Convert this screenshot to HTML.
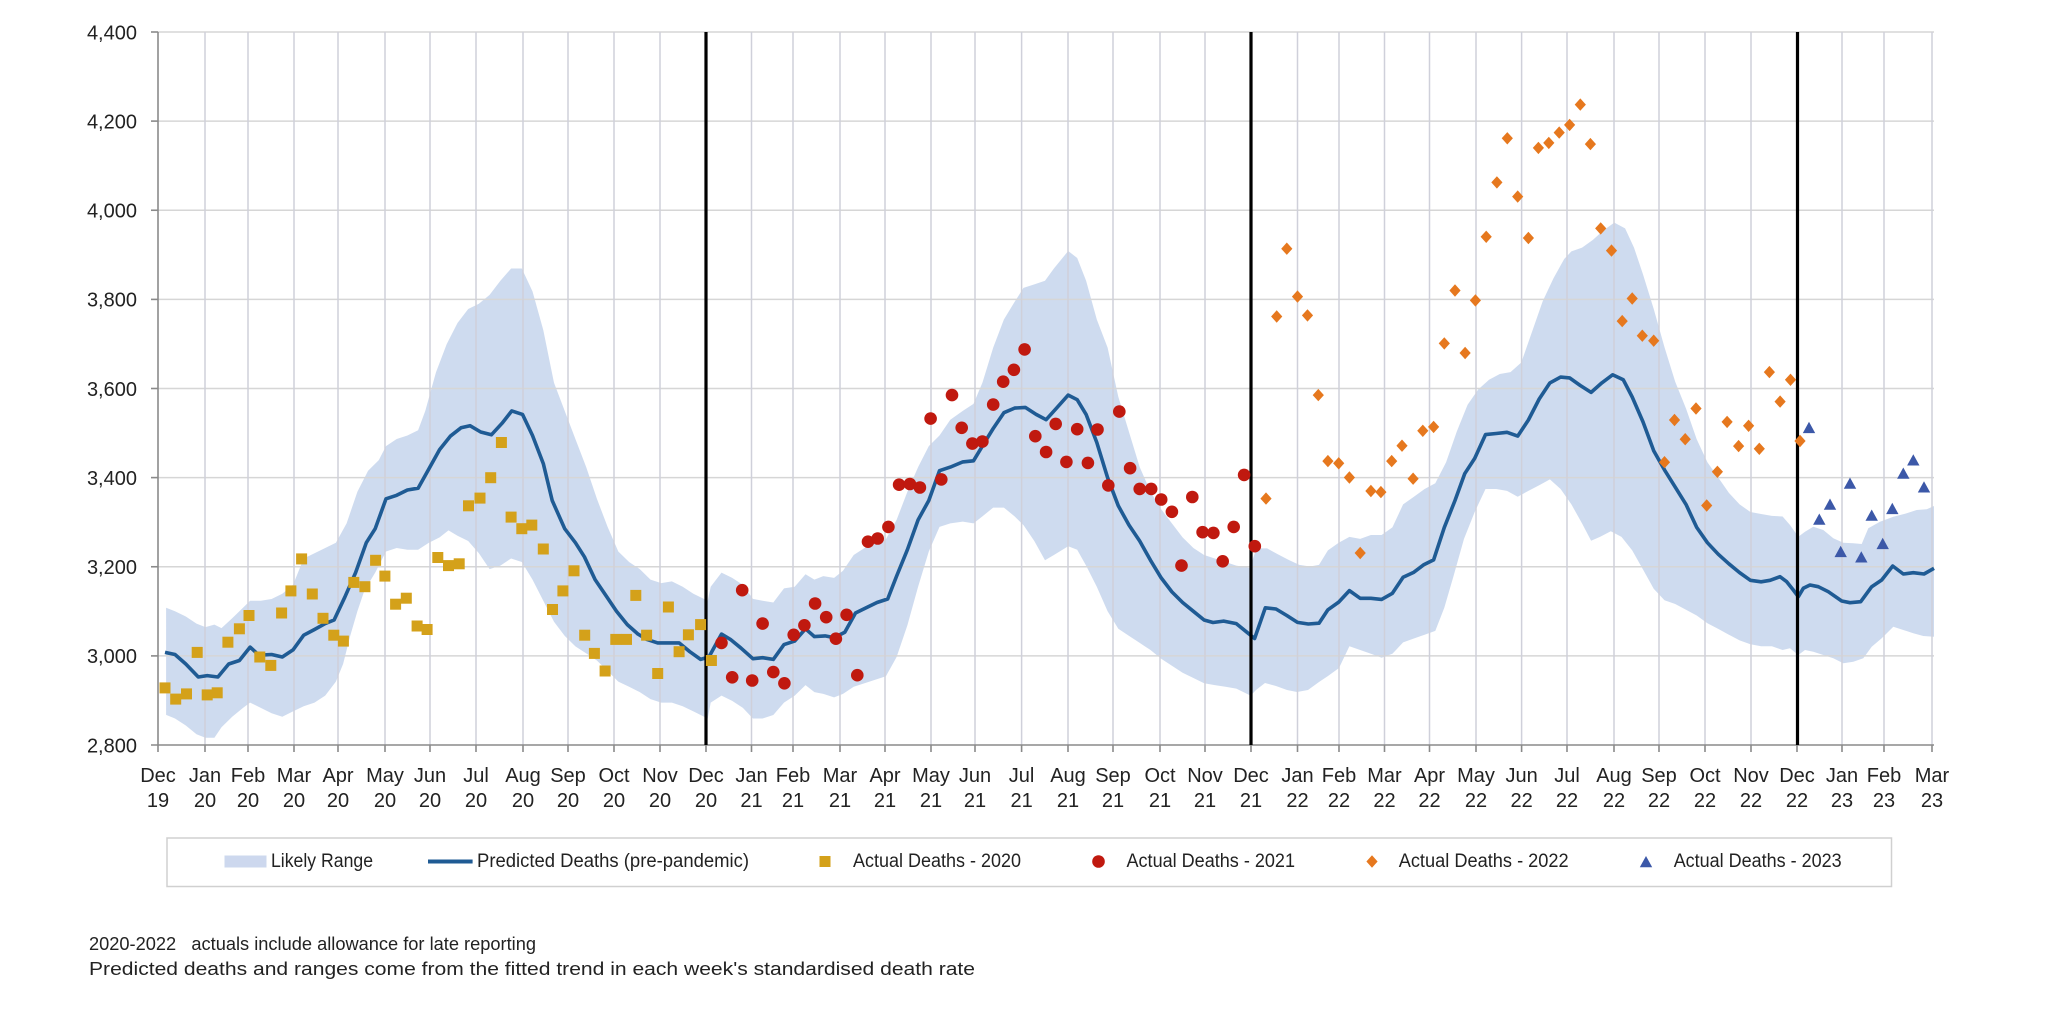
<!DOCTYPE html>
<html><head><meta charset="utf-8"><style>html,body{margin:0;padding:0;background:#fff}svg{display:block}</style></head>
<body>
<svg xmlns="http://www.w3.org/2000/svg" width="2048" height="1009" viewBox="0 0 2048 1009" font-family="'Liberation Sans', sans-serif">
<defs>
<rect id="s" x="-5.5" y="-5.5" width="11" height="11" fill="#d4a11a"/>
<circle id="c" cx="0" cy="0" r="6.3" fill="#c0190f"/>
<path id="d" d="M0,-6.2L5.6,0L0,6.2L-5.6,0Z" fill="#e6781e"/>
<path id="t" d="M0,-6.5L6.2,4.8L-6.2,4.8Z" fill="#3c58a8"/>
</defs>
<rect width="2048" height="1009" fill="#fff"/>

<!-- band -->
<polygon fill="#b4c7e7" fill-opacity="0.65" points="166.1,607.7 175.0,611.3 185.8,616.5 196.5,623.6 205.4,627.1 214.4,624.6 221.5,628.1 232.2,618.3 243.0,607.7 250.1,600.7 260.8,600.7 271.6,599.0 282.3,593.7 293.0,584.9 303.7,558.5 314.5,553.3 325.2,548.0 335.9,542.7 346.6,523.4 357.4,491.7 368.1,470.7 378.8,460.1 386.0,446.1 396.7,439.0 407.4,435.5 418.1,430.2 425.3,410.9 436.0,372.2 446.7,344.1 457.5,323.0 468.2,309.0 478.9,303.7 489.6,294.9 500.4,280.8 511.1,268.5 521.8,268.5 532.5,291.4 543.3,330.1 554.0,382.8 564.7,410.9 575.4,439.0 586.2,467.1 596.9,498.8 607.6,526.9 618.3,551.5 629.1,562.0 639.8,569.1 650.5,579.6 661.2,583.1 671.9,581.4 682.7,586.7 693.4,593.7 707.7,600.7 710.7,586.7 721.5,572.6 732.2,577.9 742.9,584.9 752.9,598.9 762.6,600.7 773.3,602.5 784.0,588.4 794.7,586.7 805.5,574.3 814.4,579.6 823.3,576.1 834.1,577.9 843.0,570.8 853.7,555.0 864.5,548.0 875.2,542.7 885.9,539.2 896.6,519.9 907.4,491.7 918.1,467.1 928.8,446.1 939.5,435.5 950.3,419.7 962.8,410.9 973.5,403.9 982.4,382.8 993.2,347.6 1003.9,319.5 1014.6,301.9 1023.5,287.9 1034.3,284.4 1045.0,280.8 1053.9,268.5 1068.2,251.0 1077.2,258.0 1086.1,280.8 1096.8,319.5 1107.6,347.6 1118.3,396.8 1129.0,432.0 1139.7,467.1 1150.5,491.7 1161.2,509.3 1171.9,523.4 1182.6,537.4 1193.4,548.0 1204.1,555.0 1214.8,558.5 1225.5,562.0 1236.3,565.6 1250,568 1256.3,548.4 1267.1,548.4 1277.8,554.2 1288.6,559.9 1299.3,564.9 1310.0,566.5 1319.0,564.9 1327.9,550.4 1338.7,542.7 1349.4,536.9 1360.2,538.9 1370.9,535.0 1381.6,535.0 1392.4,527.4 1403.1,504.4 1413.9,496.7 1424.6,489.0 1435.3,483.3 1446.1,462.2 1456.8,431.5 1467.6,404.7 1478.3,389.4 1489.0,379.8 1499.8,374.0 1510.5,372.1 1521.3,362.5 1532.0,331.9 1542.7,301.2 1553.5,278.2 1564.2,259.0 1571.4,251.4 1582.1,247.6 1592.9,239.9 1603.6,230.3 1614.3,222.6 1625.1,228.4 1634.0,247.6 1643.0,274.4 1653.7,308.9 1664.5,347.2 1675.2,381.7 1686.0,408.5 1696.7,439.2 1707.4,462.2 1718.2,477.5 1728.9,492.9 1739.6,504.4 1750.4,512.0 1761.1,514.0 1771.9,515.9 1782.6,516.5 1790,525 1798.3,536.7 1805,531.7 1813.3,526.7 1823.3,530 1833.3,538.3 1843.3,542.7 1853.3,543.3 1861.7,544 1868.3,528.3 1880,521.7 1893.3,516.7 1906.7,513.3 1916.7,510 1926.7,509.3 1934,506 1934,636.7 1923.3,636 1913.3,633.3 1903.3,630 1893.3,626.7 1881.7,638.3 1871.7,646.7 1863.3,658.3 1853.3,661.7 1843.3,663.3 1833.3,658.3 1823.3,655 1813.3,651.7 1805,650 1798.3,655 1790,648.3 1782.6,650.0 1771.9,646.2 1761.1,646.2 1750.4,644.3 1739.6,640.4 1728.9,634.7 1718.2,628.9 1707.4,623.2 1696.7,615.5 1686.0,609.8 1675.2,604.0 1664.5,600.2 1653.7,588.7 1643.0,569.5 1632.2,550.4 1621.5,536.9 1610.8,531.2 1600.0,536.9 1591.1,540.8 1582.1,523.5 1571.4,504.4 1560.6,489.0 1549.9,479.4 1539.2,485.2 1528.4,490.9 1517.7,496.7 1507.0,490.9 1496.2,489.0 1485.5,489.0 1474.7,512.0 1464.0,538.9 1453.2,577.2 1444.3,607.8 1435.3,630.9 1424.6,634.7 1413.9,638.5 1403.1,642.4 1392.4,653.8 1381.6,657.7 1370.9,653.8 1360.2,650.0 1349.4,646.2 1339,668 1328,676 1319,682 1308,690 1297,692 1287,690 1276,686 1265,683 1256,690 1250.6,695.6 1236.3,688.6 1225.5,686.8 1214.8,685.1 1204.1,683.3 1193.4,678.0 1182.6,672.8 1171.9,665.7 1161.2,658.7 1150.5,650.0 1139.7,642.9 1129.0,635.9 1118.3,628.8 1107.6,611.3 1096.8,586.7 1086.1,565.6 1077.2,549.7 1068.2,546.2 1053.9,555.0 1045.0,560.3 1034.3,541.0 1023.5,525.1 1014.6,516.4 1003.9,507.6 993.2,507.6 982.4,516.4 973.5,523.4 962.8,521.6 950.3,523.4 939.5,526.9 928.8,551.5 918.1,586.7 907.4,625.3 896.6,657.0 885.9,676.3 875.2,679.8 864.5,683.3 853.7,686.8 843.0,693.9 834.1,697.4 823.3,693.9 814.4,692.1 805.5,685.1 794.7,695.6 784.0,702.6 773.3,715.0 762.6,718.5 752.9,718.5 742.9,707.9 732.2,700.9 721.5,695.6 710.7,702.6 707.7,718.5 693.4,711.4 682.7,706.2 671.9,702.6 661.2,702.6 650.5,699.1 639.8,692.1 629.1,686.8 618.3,681.6 607.6,671.0 596.9,660.5 586.2,653.4 575.4,646.4 564.7,635.9 554.0,621.8 543.3,600.7 532.5,579.6 521.8,562.0 511.1,558.5 500.4,565.6 489.6,569.1 478.9,553.3 468.2,541.0 457.5,535.7 448.5,530.4 439.6,537.4 428.9,542.7 418.1,549.7 407.4,549.7 396.7,548.0 386.0,551.5 375.2,572.6 364.5,590.2 357.4,611.3 350.2,635.9 343.1,664.0 335.9,681.6 325.2,695.6 314.5,702.6 303.7,706.2 293.0,711.4 282.3,716.7 271.6,713.2 260.8,707.9 250.1,702.6 243.0,707.9 232.2,716.7 221.5,727.3 214.4,737.8 205.4,737.8 196.5,734.3 185.8,725.5 175.0,718.5 166.1,714.9"/>

<!-- horizontal gridlines -->
<g stroke="#d6d6d6" stroke-width="1.5" fill="none">
<line x1="158" y1="32" x2="1934" y2="32"/>
<line x1="158" y1="121.1" x2="1934" y2="121.1"/>
<line x1="158" y1="210.25" x2="1934" y2="210.25"/>
<line x1="158" y1="299.4" x2="1934" y2="299.4"/>
<line x1="158" y1="388.5" x2="1934" y2="388.5"/>
<line x1="158" y1="477.6" x2="1934" y2="477.6"/>
<line x1="158" y1="566.75" x2="1934" y2="566.75"/>
<line x1="158" y1="655.9" x2="1934" y2="655.9"/>
</g>
<!-- vertical gridlines -->
<g stroke="#cfd0da" stroke-width="1.5" fill="none">
<line x1="205" y1="32" x2="205" y2="745"/><line x1="248" y1="32" x2="248" y2="745"/><line x1="294" y1="32" x2="294" y2="745"/><line x1="338" y1="32" x2="338" y2="745"/><line x1="385" y1="32" x2="385" y2="745"/><line x1="430" y1="32" x2="430" y2="745"/><line x1="476" y1="32" x2="476" y2="745"/><line x1="523" y1="32" x2="523" y2="745"/><line x1="568" y1="32" x2="568" y2="745"/><line x1="614" y1="32" x2="614" y2="745"/><line x1="660" y1="32" x2="660" y2="745"/>
<line x1="751.5" y1="32" x2="751.5" y2="745"/><line x1="793" y1="32" x2="793" y2="745"/><line x1="840" y1="32" x2="840" y2="745"/><line x1="885" y1="32" x2="885" y2="745"/><line x1="931" y1="32" x2="931" y2="745"/><line x1="975" y1="32" x2="975" y2="745"/><line x1="1021.6" y1="32" x2="1021.6" y2="745"/><line x1="1068" y1="32" x2="1068" y2="745"/><line x1="1113" y1="32" x2="1113" y2="745"/><line x1="1160" y1="32" x2="1160" y2="745"/><line x1="1205" y1="32" x2="1205" y2="745"/>
<line x1="1297.5" y1="32" x2="1297.5" y2="745"/><line x1="1339" y1="32" x2="1339" y2="745"/><line x1="1384.5" y1="32" x2="1384.5" y2="745"/><line x1="1429.5" y1="32" x2="1429.5" y2="745"/><line x1="1476" y1="32" x2="1476" y2="745"/><line x1="1521.6" y1="32" x2="1521.6" y2="745"/><line x1="1567" y1="32" x2="1567" y2="745"/><line x1="1614" y1="32" x2="1614" y2="745"/><line x1="1659" y1="32" x2="1659" y2="745"/><line x1="1705" y1="32" x2="1705" y2="745"/><line x1="1751" y1="32" x2="1751" y2="745"/>
<line x1="1842" y1="32" x2="1842" y2="745"/><line x1="1884" y1="32" x2="1884" y2="745"/><line x1="1932" y1="32" x2="1932" y2="745"/>
</g>

<!-- axes -->
<g stroke="#8a8a8a" stroke-width="1.6" fill="none">
<line x1="158" y1="32" x2="158" y2="745"/>
<line x1="151" y1="745" x2="1934" y2="745"/>
<line x1="151" y1="32" x2="158" y2="32"/><line x1="151" y1="121.1" x2="158" y2="121.1"/><line x1="151" y1="210.25" x2="158" y2="210.25"/><line x1="151" y1="299.4" x2="158" y2="299.4"/><line x1="151" y1="388.5" x2="158" y2="388.5"/><line x1="151" y1="477.6" x2="158" y2="477.6"/><line x1="151" y1="566.75" x2="158" y2="566.75"/><line x1="151" y1="655.9" x2="158" y2="655.9"/>
<path d="M158,745v7M205,745v7M248,745v7M294,745v7M338,745v7M385,745v7M430,745v7M476,745v7M523,745v7M568,745v7M614,745v7M660,745v7M706,745v7M751.5,745v7M793,745v7M840,745v7M885,745v7M931,745v7M975,745v7M1021.6,745v7M1068,745v7M1113,745v7M1160,745v7M1205,745v7M1251,745v7M1297.5,745v7M1339,745v7M1384.5,745v7M1429.5,745v7M1476,745v7M1521.6,745v7M1567,745v7M1614,745v7M1659,745v7M1705,745v7M1751,745v7M1797,745v7M1842,745v7M1884,745v7M1932,745v7"/>
</g>

<!-- predicted line -->
<polyline fill="none" stroke="#1f5b94" stroke-width="3.6" stroke-linejoin="round" points="165.0,652.4 175.0,654.5 185.8,664.0 198.3,677.0 207.2,675.6 217.9,677.0 228.7,664.0 239.4,660.5 250.1,647.1 259.0,655.2 271.6,654.5 282.3,657.0 293.0,649.9 303.7,635.2 314.5,629.5 325.2,623.6 334.1,620.0 344.8,597.2 355.6,572.6 366.3,542.7 375.2,528.7 386.0,498.8 396.7,495.3 407.4,490.0 418.1,488.2 428.9,468.9 439.6,449.6 450.3,436.2 461.0,427.8 470.0,425.7 480.7,432.0 491.4,434.8 502.1,423.2 511.8,410.9 522.5,414.4 532.5,435.5 543.3,463.6 552.2,500.5 564.7,528.7 575.4,542.7 584.4,556.8 595.1,579.6 605.8,595.4 616.5,611.3 627.3,624.6 638.0,634.1 646.9,639.4 657.7,642.9 668.4,642.9 679.1,642.9 689.8,651.7 700.6,659.4 708.9,657.0 721.5,634.1 730.4,639.4 741.1,648.2 752.9,658.7 762.6,657.7 773.3,659.4 784.0,644.6 794.7,641.1 805.5,628.8 814.4,636.6 825.1,635.9 834.1,637.6 844.8,632.3 855.5,613.0 866.2,607.7 877.0,602.5 887.7,599.0 896.6,576.1 907.4,549.7 918.1,519.9 928.8,500.5 939.5,470.7 950.3,467.1 962.8,461.9 973.5,460.8 982.4,446.1 993.2,428.5 1003.9,412.7 1014.6,408.1 1025.3,407.4 1036.1,414.4 1046.1,419.7 1055.7,409.1 1068.2,395.1 1077.2,399.7 1086.1,414.4 1096.8,442.5 1107.6,477.7 1118.3,505.8 1129.0,525.1 1139.7,541.0 1150.5,560.3 1161.2,577.9 1171.9,591.9 1182.6,602.5 1193.4,611.3 1204.1,620.0 1213.0,622.5 1223.7,621.1 1236.3,623.6 1247.0,632.3 1254.6,638.5 1265.3,607.8 1276.0,609.0 1286.8,615.5 1297.5,622.4 1308.3,624.0 1319.0,623.2 1327.9,609.8 1338.7,602.1 1349.4,590.6 1360.2,598.3 1370.9,598.3 1381.6,599.4 1392.4,593.3 1403.1,577.2 1413.9,572.2 1423.5,564.9 1433.6,559.9 1444.3,527.4 1455.0,500.5 1464.7,473.7 1474.7,458.4 1485.5,434.6 1496.2,433.5 1507.0,432.3 1517.7,436.1 1528.4,420.0 1539.2,399.0 1549.9,382.9 1560.6,377.1 1569.6,377.9 1580.3,385.5 1591.1,392.4 1601.8,382.9 1612.6,374.8 1623.3,379.8 1632.2,397.0 1643.0,421.9 1653.7,450.7 1664.5,469.9 1675.2,487.1 1686.0,504.4 1696.7,527.4 1707.4,542.7 1718.2,554.2 1728.9,563.8 1739.6,572.6 1750.4,580.3 1761.1,581.8 1770.1,580.3 1780.0,576.7 1786.7,581.7 1793.3,590 1798.3,596.7 1803.3,588.3 1810,585 1818.3,586.7 1828.3,591.7 1841.7,601 1850,602.7 1860.7,601.7 1871.7,586.7 1881.7,580 1892.7,566 1903.3,574 1913.3,572.7 1924,574 1934,568.3"/>

<!-- year separators -->
<g stroke="#000" stroke-width="3.2">
<line x1="706" y1="32" x2="706" y2="745"/>
<line x1="1251" y1="32" x2="1251" y2="745"/>
<line x1="1797.5" y1="32" x2="1797.5" y2="745"/>
</g>

<!-- 2020 squares -->
<g>
<use href="#s" x="165.0" y="687.9"/><use href="#s" x="175.7" y="699.1"/><use href="#s" x="186.5" y="693.9"/><use href="#s" x="197.2" y="652.4"/><use href="#s" x="207.2" y="694.9"/><use href="#s" x="217.2" y="692.8"/><use href="#s" x="227.9" y="642.2"/><use href="#s" x="239.4" y="628.8"/><use href="#s" x="249.0" y="615.5"/><use href="#s" x="259.8" y="657.0"/><use href="#s" x="270.8" y="665.4"/><use href="#s" x="281.6" y="613.0"/><use href="#s" x="290.9" y="590.9"/><use href="#s" x="301.6" y="558.9"/><use href="#s" x="312.3" y="594.0"/><use href="#s" x="323.0" y="618.3"/><use href="#s" x="333.8" y="635.2"/><use href="#s" x="343.4" y="641.1"/><use href="#s" x="353.8" y="582.4"/><use href="#s" x="364.9" y="586.7"/><use href="#s" x="375.6" y="560.3"/><use href="#s" x="384.9" y="576.1"/><use href="#s" x="395.6" y="604.2"/><use href="#s" x="406.3" y="598.2"/><use href="#s" x="417.1" y="626.0"/><use href="#s" x="427.1" y="629.5"/><use href="#s" x="437.8" y="557.5"/><use href="#s" x="448.5" y="565.6"/><use href="#s" x="459.2" y="563.8"/><use href="#s" x="468.5" y="505.8"/><use href="#s" x="480.0" y="498.1"/><use href="#s" x="490.7" y="477.7"/><use href="#s" x="501.4" y="442.5"/><use href="#s" x="511.1" y="517.1"/><use href="#s" x="521.8" y="528.7"/><use href="#s" x="531.8" y="525.1"/><use href="#s" x="543.3" y="549.0"/><use href="#s" x="552.5" y="609.5"/><use href="#s" x="562.9" y="590.9"/><use href="#s" x="574.0" y="570.8"/><use href="#s" x="584.7" y="635.2"/><use href="#s" x="594.4" y="653.4"/><use href="#s" x="605.1" y="671.0"/><use href="#s" x="615.8" y="639.4"/><use href="#s" x="626.5" y="639.4"/><use href="#s" x="635.8" y="595.4"/><use href="#s" x="646.6" y="635.2"/><use href="#s" x="657.7" y="673.5"/><use href="#s" x="668.4" y="607.0"/><use href="#s" x="679.1" y="651.7"/><use href="#s" x="688.4" y="634.8"/><use href="#s" x="700.6" y="624.6"/><use href="#s" x="711.4" y="660.5"/>
</g>
<!-- 2021 circles -->
<g>
<use href="#c" x="721.5" y="642.9"/><use href="#c" x="732.2" y="677.3"/><use href="#c" x="742.2" y="590.2"/><use href="#c" x="752.2" y="680.5"/><use href="#c" x="762.6" y="623.6"/><use href="#c" x="773.3" y="672.1"/><use href="#c" x="784.4" y="683.3"/><use href="#c" x="793.7" y="634.8"/><use href="#c" x="804.4" y="625.3"/><use href="#c" x="815.1" y="603.5"/><use href="#c" x="826.2" y="617.2"/><use href="#c" x="835.9" y="638.7"/><use href="#c" x="846.6" y="614.8"/><use href="#c" x="857.3" y="675.2"/><use href="#c" x="868.0" y="541.7"/><use href="#c" x="877.7" y="538.5"/><use href="#c" x="888.4" y="526.9"/><use href="#c" x="899.1" y="484.7"/><use href="#c" x="909.9" y="484.0"/><use href="#c" x="919.9" y="487.5"/><use href="#c" x="930.6" y="418.6"/><use href="#c" x="941.3" y="479.4"/><use href="#c" x="952.0" y="395.1"/><use href="#c" x="961.7" y="427.8"/><use href="#c" x="972.4" y="443.6"/><use href="#c" x="982.4" y="441.5"/><use href="#c" x="993.2" y="404.6"/><use href="#c" x="1003.2" y="381.7"/><use href="#c" x="1013.9" y="369.8"/><use href="#c" x="1024.6" y="349.4"/><use href="#c" x="1035.3" y="436.2"/><use href="#c" x="1046.1" y="452.0"/><use href="#c" x="1055.7" y="423.9"/><use href="#c" x="1066.4" y="461.9"/><use href="#c" x="1077.2" y="429.2"/><use href="#c" x="1087.9" y="462.9"/><use href="#c" x="1097.5" y="429.5"/><use href="#c" x="1108.3" y="485.4"/><use href="#c" x="1119.3" y="411.6"/><use href="#c" x="1130.1" y="468.2"/><use href="#c" x="1139.7" y="488.9"/><use href="#c" x="1151.2" y="488.9"/><use href="#c" x="1161.2" y="499.5"/><use href="#c" x="1171.9" y="511.8"/><use href="#c" x="1181.5" y="565.6"/><use href="#c" x="1192.3" y="497.0"/><use href="#c" x="1202.6" y="532.2"/><use href="#c" x="1213.4" y="532.9"/><use href="#c" x="1222.7" y="561.3"/><use href="#c" x="1233.7" y="526.9"/><use href="#c" x="1244.1" y="474.9"/><use href="#c" x="1254.8" y="546.2"/>
</g>
<!-- 2022 diamonds -->
<g>
<use href="#d" x="1266.0" y="498.6"/><use href="#d" x="1276.7" y="316.5"/><use href="#d" x="1286.8" y="248.7"/><use href="#d" x="1297.5" y="296.6"/><use href="#d" x="1307.5" y="315.4"/><use href="#d" x="1318.3" y="395.1"/><use href="#d" x="1327.9" y="461.1"/><use href="#d" x="1338.7" y="463.3"/><use href="#d" x="1349.4" y="477.5"/><use href="#d" x="1360.2" y="553.0"/><use href="#d" x="1370.9" y="491.0"/><use href="#d" x="1380.9" y="492.1"/><use href="#d" x="1391.7" y="461.1"/><use href="#d" x="1402.0" y="445.7"/><use href="#d" x="1413.1" y="478.7"/><use href="#d" x="1422.8" y="430.8"/><use href="#d" x="1433.6" y="426.9"/><use href="#d" x="1444.3" y="343.4"/><use href="#d" x="1455.0" y="290.5"/><use href="#d" x="1465.1" y="353.0"/><use href="#d" x="1475.4" y="300.4"/><use href="#d" x="1486.2" y="236.8"/><use href="#d" x="1496.9" y="182.4"/><use href="#d" x="1507.3" y="138.3"/><use href="#d" x="1517.7" y="196.6"/><use href="#d" x="1528.4" y="238.0"/><use href="#d" x="1538.4" y="147.9"/><use href="#d" x="1548.8" y="142.9"/><use href="#d" x="1559.2" y="132.6"/><use href="#d" x="1569.6" y="124.9"/><use href="#d" x="1580.3" y="104.6"/><use href="#d" x="1590.4" y="144.1"/><use href="#d" x="1600.7" y="228.4"/><use href="#d" x="1611.5" y="250.6"/><use href="#d" x="1622.2" y="321.1"/><use href="#d" x="1632.2" y="298.5"/><use href="#d" x="1642.3" y="335.7"/><use href="#d" x="1653.7" y="340.7"/><use href="#d" x="1664.5" y="462.2"/><use href="#d" x="1674.5" y="420.0"/><use href="#d" x="1685.2" y="439.2"/><use href="#d" x="1696.0" y="408.5"/><use href="#d" x="1706.7" y="505.5"/><use href="#d" x="1717.4" y="471.8"/><use href="#d" x="1727.1" y="421.9"/><use href="#d" x="1738.6" y="446.1"/><use href="#d" x="1748.6" y="425.8"/><use href="#d" x="1759.3" y="448.8"/><use href="#d" x="1769.4" y="372.1"/><use href="#d" x="1780.1" y="401.6"/><use href="#d" x="1790.5" y="379.8"/><use href="#d" x="1800.0" y="441.0"/>
</g>
<!-- 2023 triangles -->
<g>
<use href="#t" x="1809" y="428.3"/><use href="#t" x="1819.3" y="520"/><use href="#t" x="1830" y="505"/><use href="#t" x="1840.7" y="552.3"/><use href="#t" x="1850" y="484"/><use href="#t" x="1861.3" y="557.7"/><use href="#t" x="1871.7" y="516"/><use href="#t" x="1882.7" y="544.3"/><use href="#t" x="1892.3" y="509.3"/><use href="#t" x="1903.3" y="474"/><use href="#t" x="1913.3" y="460.7"/><use href="#t" x="1924" y="487.7"/>
</g>

<!-- y labels -->
<g font-size="20" fill="#222" text-anchor="end">
<text x="137" y="39.3">4,400</text>
<text x="137" y="128.4">4,200</text>
<text x="137" y="217.5">4,000</text>
<text x="137" y="306.7">3,800</text>
<text x="137" y="395.8">3,600</text>
<text x="137" y="484.9">3,400</text>
<text x="137" y="574">3,200</text>
<text x="137" y="663.2">3,000</text>
<text x="137" y="752.3">2,800</text>
</g>

<!-- x labels -->
<g font-size="20" fill="#222" text-anchor="middle">
<text x="158" y="782">Dec</text><text x="158" y="807">19</text>
<text x="205" y="782">Jan</text><text x="205" y="807">20</text>
<text x="248" y="782">Feb</text><text x="248" y="807">20</text>
<text x="294" y="782">Mar</text><text x="294" y="807">20</text>
<text x="338" y="782">Apr</text><text x="338" y="807">20</text>
<text x="385" y="782">May</text><text x="385" y="807">20</text>
<text x="430" y="782">Jun</text><text x="430" y="807">20</text>
<text x="476" y="782">Jul</text><text x="476" y="807">20</text>
<text x="523" y="782">Aug</text><text x="523" y="807">20</text>
<text x="568" y="782">Sep</text><text x="568" y="807">20</text>
<text x="614" y="782">Oct</text><text x="614" y="807">20</text>
<text x="660" y="782">Nov</text><text x="660" y="807">20</text>
<text x="706" y="782">Dec</text><text x="706" y="807">20</text>
<text x="751.5" y="782">Jan</text><text x="751.5" y="807">21</text>
<text x="793" y="782">Feb</text><text x="793" y="807">21</text>
<text x="840" y="782">Mar</text><text x="840" y="807">21</text>
<text x="885" y="782">Apr</text><text x="885" y="807">21</text>
<text x="931" y="782">May</text><text x="931" y="807">21</text>
<text x="975" y="782">Jun</text><text x="975" y="807">21</text>
<text x="1021.6" y="782">Jul</text><text x="1021.6" y="807">21</text>
<text x="1068" y="782">Aug</text><text x="1068" y="807">21</text>
<text x="1113" y="782">Sep</text><text x="1113" y="807">21</text>
<text x="1160" y="782">Oct</text><text x="1160" y="807">21</text>
<text x="1205" y="782">Nov</text><text x="1205" y="807">21</text>
<text x="1251" y="782">Dec</text><text x="1251" y="807">21</text>
<text x="1297.5" y="782">Jan</text><text x="1297.5" y="807">22</text>
<text x="1339" y="782">Feb</text><text x="1339" y="807">22</text>
<text x="1384.5" y="782">Mar</text><text x="1384.5" y="807">22</text>
<text x="1429.5" y="782">Apr</text><text x="1429.5" y="807">22</text>
<text x="1476" y="782">May</text><text x="1476" y="807">22</text>
<text x="1521.6" y="782">Jun</text><text x="1521.6" y="807">22</text>
<text x="1567" y="782">Jul</text><text x="1567" y="807">22</text>
<text x="1614" y="782">Aug</text><text x="1614" y="807">22</text>
<text x="1659" y="782">Sep</text><text x="1659" y="807">22</text>
<text x="1705" y="782">Oct</text><text x="1705" y="807">22</text>
<text x="1751" y="782">Nov</text><text x="1751" y="807">22</text>
<text x="1797" y="782">Dec</text><text x="1797" y="807">22</text>
<text x="1842" y="782">Jan</text><text x="1842" y="807">23</text>
<text x="1884" y="782">Feb</text><text x="1884" y="807">23</text>
<text x="1932" y="782">Mar</text><text x="1932" y="807">23</text>
</g>

<!-- legend -->
<rect x="167" y="838" width="1724.5" height="48.5" fill="#fff" stroke="#d0d0d0" stroke-width="1.5"/>
<rect x="224.5" y="855.5" width="42" height="12" fill="#cdd8ee"/>
<line x1="428" y1="861.5" x2="472.6" y2="861.5" stroke="#1f5b94" stroke-width="4"/>
<use href="#s" x="825" y="861.5"/>
<use href="#c" x="1098.5" y="861.5"/>
<use href="#d" x="1372" y="861.5"/>
<use href="#t" x="1646" y="862.5"/>
<g font-size="19" fill="#222">
<text x="271" y="867" textLength="102" lengthAdjust="spacingAndGlyphs">Likely Range</text>
<text x="477" y="867" textLength="272" lengthAdjust="spacingAndGlyphs">Predicted Deaths (pre-pandemic)</text>
<text x="853" y="867" textLength="168" lengthAdjust="spacingAndGlyphs">Actual Deaths - 2020</text>
<text x="1126.5" y="867" textLength="168.5" lengthAdjust="spacingAndGlyphs">Actual Deaths - 2021</text>
<text x="1398.7" y="867" textLength="170" lengthAdjust="spacingAndGlyphs">Actual Deaths - 2022</text>
<text x="1673.7" y="867" textLength="168" lengthAdjust="spacingAndGlyphs">Actual Deaths - 2023</text>
</g>

<!-- footnotes -->
<g font-size="18" fill="#222">
<text x="89" y="950" textLength="447" lengthAdjust="spacingAndGlyphs">2020-2022&#160;&#160; actuals include allowance for late reporting</text>
<text x="89" y="975" textLength="886" lengthAdjust="spacingAndGlyphs">Predicted deaths and ranges come from the fitted trend in each week's standardised death rate</text>
</g>
</svg>
</body></html>
